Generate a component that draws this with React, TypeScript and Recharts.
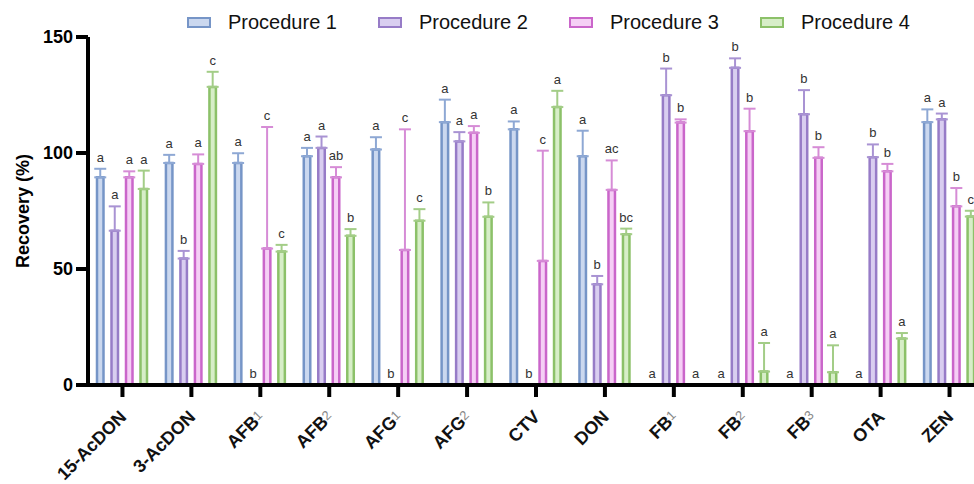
import React from 'react';
import { BarChart, Bar, XAxis, YAxis, ErrorBar, LabelList } from 'recharts';

const FONT = 'Arial, "Liberation Sans", sans-serif';

// analytes on the x axis (a trailing digit is drawn as a small index)
const categories = ['15-AcDON', '3-AcDON', 'AFB1', 'AFB2', 'AFG1', 'AFG2', 'CTV', 'DON', 'FB1', 'FB2', 'FB3', 'OTA', 'ZEN'];
const seriesNames = ['Procedure 1', 'Procedure 2', 'Procedure 3', 'Procedure 4'];
const yTicks = [0, 50, 100, 150];

// recovery (%) per procedure
const proc1 = [89.5, 95.7, 95.7, 98.6, 101.5, 113.3, 110.2, 98.6, 0, 0, 0, 0, 113.3];
const proc2 = [66.5, 54.5, 0, 102.2, 0, 105, 0, 43.4, 124.9, 136.7, 116.7, 98.2, 114.5];
const proc3 = [89.5, 95.3, 58.8, 89.5, 58.2, 108.7, 53.5, 84.1, 113.1, 109.4, 97.9, 92.1, 77];
const proc4 = [84.5, 128.5, 57.5, 64.3, 70.8, 72.5, 119.8, 65, 0, 5.8, 5.5, 20, 72.6];

// upper error (SD)
const proc1Err = [3.7, 3.5, 4.2, 3.6, 5.3, 9.7, 3.4, 11, 0, 0, 0, 0, 5.5];
const proc2Err = [10.5, 3.3, 0, 4.9, 0, 4, 0, 3.6, 11.5, 4.1, 10.4, 5.5, 2.5];
const proc3Err = [2.6, 4.1, 52.4, 4.4, 52, 2.9, 47.5, 12.7, 1.4, 9.7, 4.6, 3.2, 7.9];
const proc4Err = [7.9, 6.5, 2.9, 2.9, 5, 6.2, 7, 2.4, 0, 12.3, 11.6, 2.4, 2.5];

// significance letters
const proc1Letters = ['a', 'a', 'a', 'a', 'a', 'a', 'a', 'a', 'a', 'a', 'a', 'a', 'a'];
const proc2Letters = ['a', 'b', 'b', 'a', 'b', 'a', 'b', 'b', 'b', 'b', 'b', 'b', 'a'];
const proc3Letters = ['a', 'a', 'c', 'ab', 'c', 'a', 'c', 'ac', 'b', 'b', 'b', 'b', 'b'];
const proc4Letters = ['a', 'c', 'c', 'b', 'c', 'b', 'a', 'bc', 'a', 'a', 'a', 'a', 'c'];

const STYLES = [
  { stroke: '#7695c7', fill: '#cbd8ef', err: '#8ea8d4' },
  { stroke: '#977cc7', fill: '#d9cef0', err: '#a993d3' },
  { stroke: '#ca66ca', fill: '#f5cff5', err: '#d68cd6' },
  { stroke: '#8cc169', fill: '#d7eec8', err: '#a3cd87' },
];

const Y_MAX = 150;
const PLOT_TOP = 37;
const PLOT_H = 348;
const PX_PER_UNIT = PLOT_H / Y_MAX;
const BAR_SIZE = 6.5;
const BAR_GAP = 8;

const values = [proc1, proc2, proc3, proc4];
const errs = [proc1Err, proc2Err, proc3Err, proc4Err];
const letters = [proc1Letters, proc2Letters, proc3Letters, proc4Letters];

const data = categories.map((name, i) => {
  const row: any = { name };
  values.forEach((v, s) => {
    row[`p${s}`] = v[i];
    row[`e${s}`] = v[i] > 0 ? [0, errs[s][i]] : null;
    row[`l${s}`] = `${letters[s][i]}|${errs[s][i]}`;
  });
  return row;
});

const letterStyle = { fontSize: 13, fill: '#333', fontFamily: FONT };

// letter above the error cap of a drawn bar
function LetterLabel(props: any) {
  const vb = props.viewBox ?? props;
  const x = Number(vb.x ?? props.x);
  const y = Number(vb.y ?? props.y);
  const w = Number(vb.width ?? props.width);
  const [letter, err] = String(props.value).split('|');
  const up = (Number(err) || 0) * PX_PER_UNIT;
  return (
    <text x={x + w / 2} y={y - up - 7} textAnchor="middle" {...letterStyle}>
      {letter}
    </text>
  );
}

function XTick(props: any) {
  const { x, y, payload } = props;
  const i = payload.index ?? props.index ?? categories.indexOf(payload.value);
  const m = /^(.*[A-Z])(\d)$/.exec(payload.value);
  const base = m ? m[1] : payload.value;
  const sub = m ? m[2] : '';
  const baseline = y - 14;
  return (
    <g>
      {/* letters for procedures with no recovery (no bar drawn) */}
      {values.map((v, s) =>
        v[i] === 0 ? (
          <text
            key={s}
            x={x + (s - 1.5) * (BAR_SIZE + BAR_GAP)}
            y={baseline - 7}
            textAnchor="middle"
            {...letterStyle}
          >
            {letters[s][i]}
          </text>
        ) : null
      )}
      <g transform={`translate(${x + 5},${y + 19}) rotate(-45)`}>
        <text textAnchor="end" fontSize={18} fontWeight="bold" fill="#111" fontFamily={FONT}>
          {base}
          {sub && (
            <tspan fontSize={13} fontWeight="normal" fill="#888" dy={-3}>
              {sub}
            </tspan>
          )}
        </text>
      </g>
    </g>
  );
}

export default function App() {
  return (
    <div
      style={{
        position: 'fixed',
        left: 0,
        top: 0,
        width: 974,
        height: 484,
        overflow: 'hidden',
        background: '#fff',
        fontFamily: FONT,
      }}
    >
      <div style={{ position: 'absolute', top: 10, left: 187, display: 'flex', alignItems: 'center', zIndex: 2 }}>
        {seriesNames.map((n, s) => (
          <div key={n} style={{ display: 'flex', alignItems: 'center', marginRight: 41 }}>
            <span
              style={{
                width: 20,
                height: 7,
                border: `2.5px solid ${STYLES[s].stroke}`,
                background: STYLES[s].fill,
                marginRight: 17,
              }}
            />
            <span style={{ fontSize: 20, lineHeight: '24px', color: '#111', whiteSpace: 'nowrap' }}>{n}</span>
          </div>
        ))}
      </div>
      <BarChart
        width={1000}
        height={484}
        data={data}
        margin={{ top: PLOT_TOP, right: 16, left: 0, bottom: 0 }}
        barSize={BAR_SIZE}
        barGap={BAR_GAP}
      >
        <XAxis
          dataKey="name"
          height={99}
          interval={0}
          tick={<XTick />}
          tickSize={12}
          tickMargin={2}
          axisLine={{ stroke: '#000', strokeWidth: 4 }}
          tickLine={{ stroke: '#000', strokeWidth: 4 }}
        />
        <YAxis
          width={88}
          domain={[0, Y_MAX]}
          ticks={yTicks}
          interval={0}
          tickSize={12}
          tickMargin={3}
          tick={{ fill: '#000', fontSize: 18, fontWeight: 'bold', fontFamily: FONT }}
          axisLine={{ stroke: '#000', strokeWidth: 4 }}
          tickLine={{ stroke: '#000', strokeWidth: 4 }}
          label={(p: any) => {
            const vb = p.viewBox ?? {};
            const cx = 23;
            const cy = (vb.y ?? PLOT_TOP) + (vb.height ?? PLOT_H) / 2;
            return (
              <text
                x={cx}
                y={cy}
                transform={`rotate(-90, ${cx}, ${cy})`}
                textAnchor="middle"
                dominantBaseline="central"
                fontSize={18}
                fontWeight="bold"
                fill="#000"
                fontFamily={FONT}
              >
                Recovery (%)
              </text>
            );
          }}
        />
        {seriesNames.map((n, s) => (
          <Bar
            key={n}
            name={n}
            dataKey={`p${s}`}
            fill={STYLES[s].fill}
            stroke={STYLES[s].stroke}
            strokeWidth={2.5}
            isAnimationActive={false}
          >
            <ErrorBar
              dataKey={`e${s}`}
              direction="y"
              width={6}
              stroke={STYLES[s].err}
              strokeWidth={2}
              isAnimationActive={false}
            />
            <LabelList dataKey={`l${s}`} content={<LetterLabel />} />
          </Bar>
        ))}
      </BarChart>
    </div>
  );
}
